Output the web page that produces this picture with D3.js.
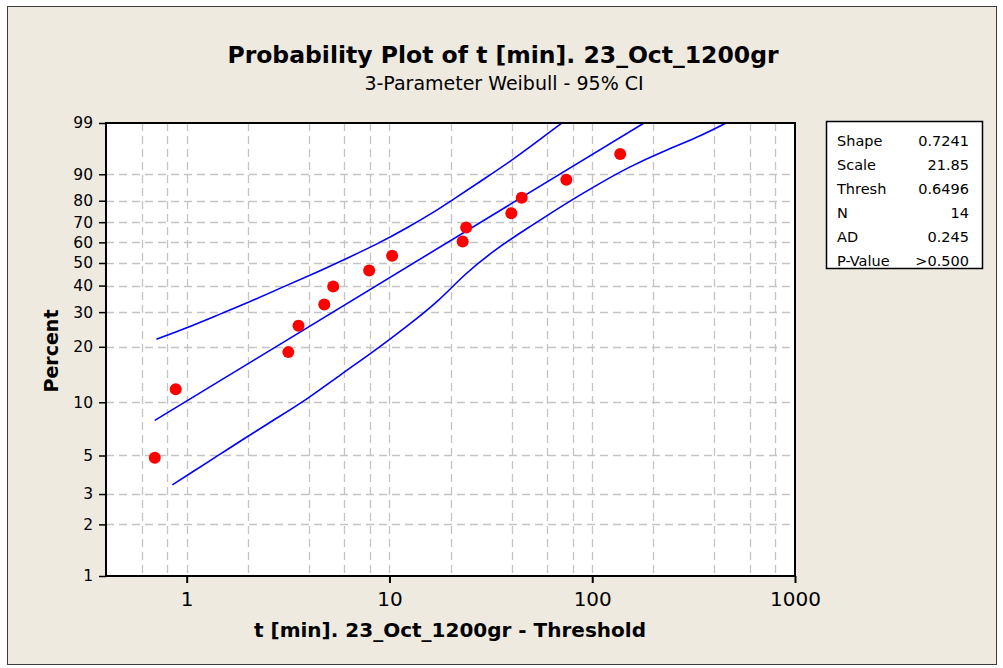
<!DOCTYPE html>
<html>
<head>
<meta charset="utf-8">
<script src="https://cdn.jsdelivr.net/npm/d3@7/dist/d3.min.js"></script>
<style>
  html, body { margin: 0; padding: 0; background: #ffffff; }
  svg { display: block; }
  text { font-family: "DejaVu Sans", Verdana, sans-serif; fill: #000; }
</style>
</head>
<body>
<svg id="chart" width="1003" height="668"></svg>
<script>
// ---- data ----
// observed times (t - threshold) with their median-rank plotting positions (%)
const obsTime = [0.696, 0.883, 3.17, 3.56, 4.77, 5.28, 7.94, 10.31, 22.96, 23.9, 39.9, 44.9, 74.5, 137.4];
const obsPercent = [4.86, 11.81, 18.75, 25.69, 32.64, 39.58, 46.53, 53.47, 60.42, 67.36, 74.31, 81.25, 88.19, 95.14];

// upper 95% confidence band
const upperTime = [0.709, 0.970, 1.527, 1.991, 2.90, 4.24, 6.19, 8.37, 12.2, 17.8, 20.0, 28.0, 39.4, 53.4, 70.8];
const upperPercent = [21.9, 24.7, 29.9, 33.2, 39.0, 45.1, 52.3, 58.3, 67.1, 76.7, 79.7, 87.6, 93.5, 97.2, 99.0];

// lower 95% confidence band
const lowerTime = [0.850, 1.046, 1.443, 1.880, 2.69, 3.93, 5.74, 8.37, 12.2, 17.8, 23.2, 33.9, 49.5, 72.2, 105.5, 153.9, 224.5, 328, 457];
const lowerPercent = [3.39, 3.96, 5.04, 6.14, 7.97, 10.4, 14.2, 18.9, 25.5, 34.4, 44.6, 57.2, 67.9, 78.2, 86.4, 92.3, 95.7, 97.7, 99.0];

// fitted 3-parameter Weibull
const statLabels = ["Shape", "Scale", "Thresh", "N", "AD", "P-Value"];
const statValues = ["0.7241", "21.85", "0.6496", "14", "0.245", ">0.500"];
const fitShape = 0.7241;
const fitScale = 21.85;

// axis ticks
const xTicks = [1, 10, 100, 1000];
const xGrid = [0.6, 0.8, 1, 2, 4, 6, 8, 10, 20, 40, 60, 80, 100, 200, 400, 600, 800];
const yTicks = [1, 2, 3, 5, 10, 20, 30, 40, 50, 60, 70, 80, 90, 99];
const yGrid = [2, 3, 5, 10, 20, 30, 40, 50, 60, 70, 80, 90];

// ---- layout ----
const W = 1003, H = 668;
const plot = { left: 106, right: 795, top: 123, bottom: 576 };
const numFont = "Liberation Sans, Arial, sans-serif";

const svg = d3.select("#chart");

// figure background and frame
svg.append("rect").attr("x", 0).attr("y", 0).attr("width", W).attr("height", H).attr("fill", "#ffffff");
svg.append("rect")
  .attr("x", 7.5).attr("y", 6.5).attr("width", 989).attr("height", 658)
  .attr("fill", "#eeeae0").attr("stroke", "#3c3c3c").attr("stroke-width", 1);

// Weibull probability transform: ln(-ln(1-p))
const wb = p => Math.log(-Math.log(1 - p / 100));

const x = d3.scaleLog().domain([0.4, 1000]).range([plot.left, plot.right]);
const yLin = d3.scaleLinear().domain([wb(1), wb(99)]).range([plot.bottom, plot.top]);
const y = p => yLin(wb(p));

// plot area
svg.append("rect")
  .attr("x", plot.left).attr("y", plot.top)
  .attr("width", plot.right - plot.left).attr("height", plot.bottom - plot.top)
  .attr("fill", "#ffffff");

svg.append("clipPath").attr("id", "plotClip")
  .append("rect")
  .attr("x", plot.left).attr("y", plot.top)
  .attr("width", plot.right - plot.left).attr("height", plot.bottom - plot.top);

// grid
const grid = svg.append("g").attr("stroke", "#c4c4c4").attr("stroke-width", 1.3).attr("stroke-dasharray", "8,5");
grid.selectAll("line.v").data(xGrid).join("line")
  .attr("class", "v")
  .attr("x1", d => Math.round(x(d)) + 0.5).attr("x2", d => Math.round(x(d)) + 0.5)
  .attr("y1", plot.top).attr("y2", plot.bottom);
grid.selectAll("line.h").data(yGrid).join("line")
  .attr("class", "h")
  .attr("x1", plot.left).attr("x2", plot.right)
  .attr("y1", d => Math.round(y(d)) + 0.5).attr("y2", d => Math.round(y(d)) + 0.5);

// confidence bands and fit line
const gLines = svg.append("g").attr("clip-path", "url(#plotClip)");
const bandLine = d3.line().x(d => x(d[0])).y(d => y(d[1])).curve(d3.curveBasis);
const straight = d3.line().x(d => x(d[0])).y(d => y(d[1]));

const upper = upperTime.map((t, i) => [t, upperPercent[i]]);
const lower = lowerTime.map((t, i) => [t, lowerPercent[i]]);

// fitted line from first observation up to the 99% level
const fitCdf = t => 100 * (1 - Math.exp(-Math.pow(t / fitScale, fitShape)));
const tEnd = fitScale * Math.pow(-Math.log(0.01), 1 / fitShape);
const fit = [obsTime[0], tEnd].map(t => [t, fitCdf(t)]);

[[upper, bandLine], [fit, straight], [lower, bandLine]].forEach(([seg, gen]) => {
  gLines.append("path")
    .datum(seg)
    .attr("d", gen)
    .attr("fill", "none")
    .attr("stroke", "#0000ff")
    .attr("stroke-width", 1.6);
});

// observations
svg.append("g").selectAll("circle").data(obsTime).join("circle")
  .attr("cx", d => x(d))
  .attr("cy", (d, i) => y(obsPercent[i]))
  .attr("r", 6)
  .attr("fill", "#ff0000");

// plot frame
svg.append("rect")
  .attr("x", plot.left).attr("y", plot.top)
  .attr("width", plot.right - plot.left).attr("height", plot.bottom - plot.top)
  .attr("fill", "none").attr("stroke", "#000").attr("stroke-width", 2);

// axes
const xAxis = d3.axisBottom(x).tickValues(xTicks).tickFormat(d3.format("d")).tickSize(7).tickPadding(9);
const gx = svg.append("g").attr("transform", `translate(0,${plot.bottom})`).call(xAxis);
gx.select(".domain").remove();
gx.selectAll(".tick line").attr("stroke", "#000").attr("stroke-width", 2);
gx.selectAll(".tick text").attr("font-size", 20).attr("font-family", numFont).attr("fill", "#000");

const yAxis = d3.axisLeft(yLin).tickValues(yTicks.map(wb)).tickFormat((d, i) => yTicks[i]).tickSize(7).tickPadding(6);
const gy = svg.append("g").attr("transform", `translate(${plot.left},0)`).call(yAxis);
gy.select(".domain").remove();
gy.selectAll(".tick line").attr("stroke", "#000").attr("stroke-width", 1.5);
gy.selectAll(".tick text").attr("font-size", 15.5).attr("font-family", numFont).attr("fill", "#000");

// titles
svg.append("text")
  .attr("x", 503).attr("y", 63)
  .attr("text-anchor", "middle")
  .attr("font-size", 23.5).attr("font-weight", "bold")
  .text("Probability Plot of t [min]. 23_Oct_1200gr");

svg.append("text")
  .attr("x", 504).attr("y", 90)
  .attr("text-anchor", "middle")
  .attr("font-size", 19)
  .text("3-Parameter Weibull - 95% CI");

svg.append("text")
  .attr("x", 450).attr("y", 637)
  .attr("text-anchor", "middle")
  .attr("font-size", 20).attr("font-weight", "bold")
  .text("t [min]. 23_Oct_1200gr - Threshold");

svg.append("text")
  .attr("transform", "translate(58,351) rotate(-90)")
  .attr("text-anchor", "middle")
  .attr("font-size", 19).attr("font-weight", "bold")
  .text("Percent");

// statistics box
const box = { x: 826, y: 121, w: 156, h: 147 };
svg.append("rect")
  .attr("x", box.x + 0.5).attr("y", box.y + 0.5).attr("width", box.w).attr("height", box.h)
  .attr("fill", "#ffffff").attr("stroke", "#000").attr("stroke-width", 1.5);

const rows = svg.append("g").selectAll("g").data(statLabels).join("g")
  .attr("transform", (d, i) => `translate(0,${box.y + 25 + i * 24})`);
rows.append("text").attr("x", box.x + 11).attr("font-size", 14.5).text(d => d);
rows.append("text").attr("x", box.x + box.w - 13).attr("text-anchor", "end").attr("font-size", 14.5)
  .text((d, i) => statValues[i]);
</script>
</body>
</html>
